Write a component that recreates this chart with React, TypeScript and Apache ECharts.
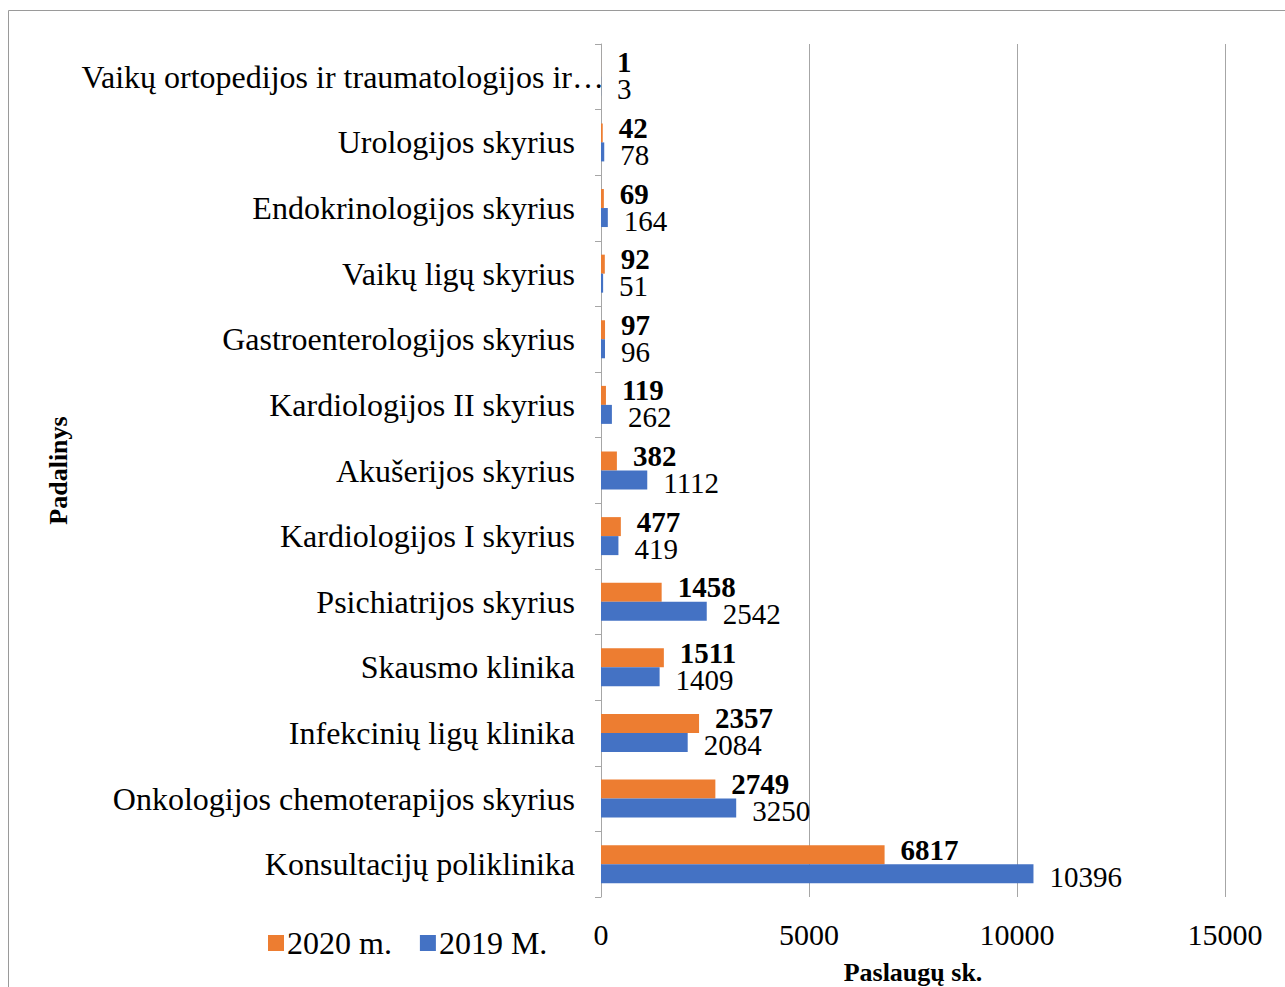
import React, { useEffect, useRef } from "react";
import * as echarts from "echarts";

const categories = [
  "Konsultacijų poliklinika",
  "Onkologijos chemoterapijos skyrius",
  "Infekcinių ligų klinika",
  "Skausmo klinika",
  "Psichiatrijos skyrius",
  "Kardiologijos I skyrius",
  "Akušerijos skyrius",
  "Kardiologijos II skyrius",
  "Gastroenterologijos skyrius",
  "Vaikų ligų skyrius",
  "Endokrinologijos skyrius",
  "Urologijos skyrius",
  "Vaikų ortopedijos ir traumatologijos ir…",
];
const values2020 = [6817, 2749, 2357, 1511, 1458, 477, 382, 119, 97, 92, 69, 42, 1];
const values2019 = [10396, 3250, 2084, 1409, 2542, 419, 1112, 262, 96, 51, 164, 78, 3];
const xTicks = { min: 0, max: 15000, interval: 5000 };

const FONT = "'Liberation Serif', 'Times New Roman', serif";

export default function App() {
  const ref = useRef<HTMLDivElement>(null);
  useEffect(() => {
    if (!ref.current) return;
    const chart = echarts.init(ref.current, null, { renderer: "svg" });
    chart.setOption({
      animation: false,
      backgroundColor: "#ffffff",
      textStyle: { fontFamily: FONT, color: "#000" },
      graphic: [
        {
          type: "rect",
          shape: { x: 8.5, y: 10.5, width: 1300, height: 1000 },
          style: { fill: "none", stroke: "#9a9a9a", lineWidth: 1 },
          silent: true,
        },
      ],
      grid: {
        left: 601,
        right: 60,
        top: 44,
        bottom: 90,
        containLabel: false,
        outerBoundsMode: "none",
      },
      legend: {
        data: ["2020 m.", "2019 M."],
        left: 263,
        top: 922,
        icon: "rect",
        itemWidth: 16,
        itemHeight: 16,
        itemGap: 28,
        textStyle: { fontFamily: FONT, fontSize: 32, color: "#000", padding: [0, 0, 0, -2] },
      },
      xAxis: {
        type: "value",
        min: xTicks.min,
        max: xTicks.max,
        interval: xTicks.interval,
        axisLine: { show: false },
        axisTick: { show: false },
        splitLine: { lineStyle: { color: "#a6a6a6", width: 1 } },
        axisLabel: {
          fontFamily: FONT,
          fontSize: 30,
          color: "#000",
          margin: 22,
          formatter: (v: number) => String(v),
        },
        name: "Paslaugų sk.",
        nameLocation: "middle",
        nameGap: 62,
        nameMoveOverlap: false,
        nameTextStyle: { fontFamily: FONT, fontSize: 26, fontWeight: "bold", color: "#000" },
      },
      yAxis: {
        type: "category",
        data: categories,
        axisLine: { show: true, lineStyle: { color: "#a6a6a6", width: 1 } },
        axisTick: { show: true, length: 6, lineStyle: { color: "#a6a6a6" } },
        axisLabel: {
          fontFamily: FONT,
          fontSize: 32,
          color: "#000",
          margin: 26,
          formatter: (v: string, i: number) =>
            i === categories.length - 1 ? "{far|" + v + "}" : v,
          rich: {
            far: {
              fontFamily: FONT,
              fontSize: 32,
              color: "#000",
              padding: [0, -29, 0, 0],
            },
          },
        },
        name: "Padalinys",
        nameLocation: "middle",
        nameRotate: 90,
        nameGap: 530,
        nameMoveOverlap: false,
        nameTextStyle: { fontFamily: FONT, fontSize: 26, fontWeight: "bold", color: "#000" },
      },
      series: [
        {
          name: "2020 m.",
          type: "bar",
          data: values2020,
          barWidth: 19,
          barGap: "0%",
          itemStyle: { color: "#ED7D31" },
          label: {
            show: true,
            position: "right",
            distance: 16,
            offset: [0, -5],
            fontFamily: FONT,
            fontSize: 29,
            fontWeight: "bold",
            color: "#000",
          },
        },
        {
          name: "2019 M.",
          type: "bar",
          data: values2019,
          barWidth: 19,
          barGap: "0%",
          itemStyle: { color: "#4472C4" },
          label: {
            show: true,
            position: "right",
            distance: 16,
            offset: [0, 3],
            fontFamily: FONT,
            fontSize: 29,
            color: "#000",
          },
        },
      ],
    });
    return () => chart.dispose();
  }, []);
  return (
    <div
      ref={ref}
      style={{ position: "fixed", left: 0, top: 0, width: 1285, height: 987 }}
    />
  );
}
